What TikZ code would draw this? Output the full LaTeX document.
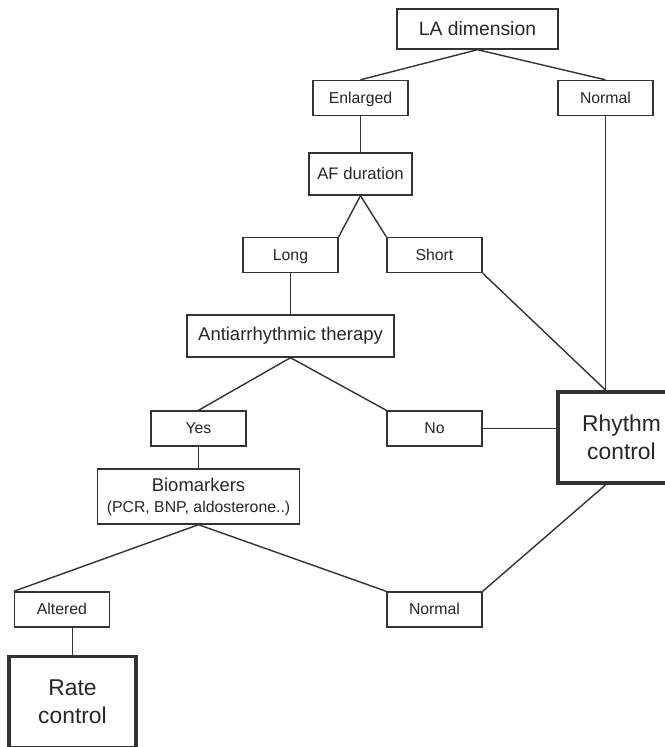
\documentclass[tikz,border=0pt]{standalone}
\usepackage{fontspec}
\setmainfont{Liberation Sans}
\usetikzlibrary{positioning}

\begin{document}
\begin{tikzpicture}[node distance=2cm,on grid,
    box/.style={draw=black!80,line width=0.8pt,text=black!85,minimum width=1.9cm,minimum height=0.7cm,inner sep=1pt,font=\fontsize{9}{11}\selectfont},
    tag/.style={box,text height=1.6ex,text depth=0.45ex},
    wide/.style={box,minimum height=0.84cm,font=\fontsize{10.5}{12}\selectfont},
    goal/.style={box,line width=2.2pt,minimum width=2.54cm,minimum height=1.82cm,align=center,font=\fontsize{13}{16}\selectfont}]
    \clip (-9.55,0.58) rectangle (3.75,-14.36);
    \node[box,minimum width=3.22cm,minimum height=0.8cm,font=\fontsize{11}{13}\selectfont] (LA) at (0,0) {LA dimension};
    \node[tag] (Enl) [below left = 1.38cm and 2.34cm of LA] {Enlarged};
    \node[tag] (NorT) [below right = 1.38cm and 2.56cm of LA] {Normal};
    \node[tag,minimum width=2.06cm,minimum height=0.84cm,font=\fontsize{9.5}{11}\selectfont] (AF) [below = 1.52cm of Enl] {AF duration};
    \node[tag] (Long) [below left = 1.62cm and 1.40cm of AF] {Long};
    \node[tag] (Short) [below right = 1.62cm and 1.48cm of AF] {Short};
    \node[wide,minimum width=4.14cm] (Anti) [below = 1.62cm of Long] {Antiarrhythmic therapy};
    \node[tag] (Yes) [below left = 1.85cm and 1.84cm of Anti] {Yes};
    \node[tag] (No) [below right = 1.85cm and 2.88cm of Anti] {No};
    \node[goal] (Rhy) [below right = 0.18cm and 3.74cm of No] {Rhythm\\control};
    \node[wide,minimum width=4.04cm,minimum height=1.1cm,align=center] (Bio) [below = 1.36cm of Yes]
        {Biomarkers\\{\fontsize{9}{11}\selectfont (PCR, BNP, aldosterone..)}};
    \node[tag] (Alt) [below left = 2.26cm and 2.73cm of Bio] {Altered};
    \node[tag] (NorB) [below right = 2.26cm and 4.72cm of Bio] {Normal};
    \node[goal] (Rate) [below right = 1.85cm and 0.21cm of Alt] {Rate\\control};
    \coordinate (RhyTop) at (NorT.south |- Rhy.north);
    \coordinate (RhyBot) at (NorT.south |- Rhy.south);
    \path[line width=0.8pt,draw=black!80]
    (LA.south)
    edge (Enl.north)
    edge (NorT.north)
    (Enl.south) edge (AF.north)
    (AF.south)
    edge (Long.north east)
    edge (Short.north west)
    (Long.south) edge (Anti.north)
    (Short.south east) edge (RhyTop)
    (NorT.south) edge (RhyTop)
    (Anti.south)
    edge (Yes.north)
    edge (No.north west)
    (No.east) edge (No.east -| Rhy.west)
    (Yes.south) edge (Yes.south |- Bio.north)
    (Bio.south)
    edge (Alt.north west)
    edge (NorB.north west)
    (NorB.north east) edge (RhyBot)
    (Rate.north |- Alt.south) edge (Rate.north)
    ;
\end{tikzpicture}
\end{document}
